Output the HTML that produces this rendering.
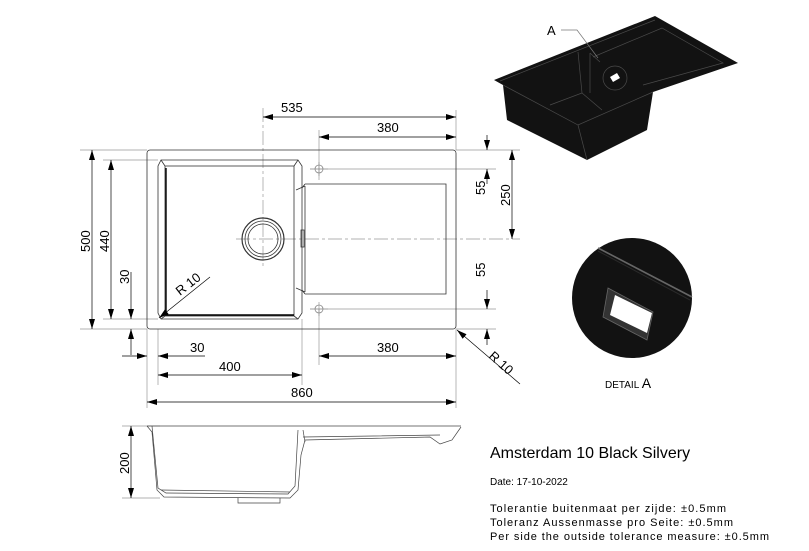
<!DOCTYPE html>
<html><head><meta charset="utf-8"><style>
html,body{margin:0;padding:0;background:#fff;}
svg{display:block;font-family:"Liberation Sans",sans-serif;}
</style></head><body>
<svg width="809" height="551" viewBox="0 0 809 551" xmlns="http://www.w3.org/2000/svg">
<defs>
<marker id="a" viewBox="0 0 10 6" refX="10" refY="3" markerWidth="11" markerHeight="6" orient="auto-start-reverse" markerUnits="userSpaceOnUse"><path d="M0,0 L10,3 L0,6 z" fill="#000"/></marker>
</defs>
<g stroke="#999" stroke-width="0.7" fill="none">
<line x1="263" y1="108" x2="263" y2="268" stroke-dasharray="14,3,3,3"/>
<line x1="319" y1="130" x2="319" y2="180"/>
<line x1="456" y1="110" x2="456" y2="150"/>
<line x1="456" y1="150" x2="520" y2="150"/>
<line x1="310" y1="169" x2="496" y2="169"/>
<line x1="236" y1="239" x2="520" y2="239" stroke-dasharray="14,3,3,3"/>
<line x1="310" y1="309" x2="496" y2="309"/>
<line x1="456" y1="329" x2="496" y2="329"/>
<line x1="80" y1="150" x2="147" y2="150"/>
<line x1="80" y1="329" x2="147" y2="329"/>
<line x1="103" y1="160" x2="158" y2="160"/>
<line x1="103" y1="319" x2="158" y2="319"/>
<line x1="158" y1="329" x2="158" y2="385"/>
<line x1="147" y1="329" x2="147" y2="408"/>
<line x1="302" y1="319" x2="302" y2="385"/>
<line x1="319" y1="309" x2="319" y2="365"/>
<line x1="456" y1="329" x2="456" y2="408"/>
<line x1="122" y1="426" x2="160" y2="426"/>
<line x1="122" y1="498" x2="160" y2="498"/>
</g>
<g stroke="#333" stroke-width="0.8" fill="none">
<rect x="147" y="150" width="309" height="179" rx="3"/>
<path d="M161,160 L298,160 L302,166 L302,313 L298,319 L161,319 L158,313 L158,166 Z"/>
<rect x="165" y="166" width="129" height="150"/>
<line x1="161" y1="160" x2="165" y2="166"/><line x1="298" y1="160" x2="294" y2="166"/>
<line x1="161" y1="319" x2="165" y2="316"/><line x1="298" y1="319" x2="294" y2="316"/>
<line x1="166" y1="168" x2="166" y2="314" stroke="#000" stroke-width="1.4"/>
<line x1="165" y1="315" x2="294" y2="315" stroke="#000" stroke-width="1.4"/>
<path d="M305,184 L446,184 L446,294 L305,294"/>
<line x1="302" y1="188" x2="305" y2="184"/><line x1="296" y1="190" x2="305" y2="186"/>
<line x1="302" y1="290" x2="305" y2="294"/><line x1="296" y1="288" x2="305" y2="292"/>
<line x1="305" y1="186" x2="305" y2="292"/>
<rect x="301" y="230" width="3" height="17"/>
<circle cx="263" cy="239" r="21" stroke-width="1.2"/>
<circle cx="263" cy="239" r="18"/>
<circle cx="263" cy="239" r="15"/>
<circle cx="319" cy="169" r="4" stroke="#888"/>
<circle cx="319" cy="309" r="4" stroke="#888"/>
</g>
<g stroke="#888" stroke-width="0.6"><line x1="310" y1="169" x2="328" y2="169"/><line x1="319" y1="162" x2="319" y2="176"/>
<line x1="310" y1="309" x2="328" y2="309"/><line x1="319" y1="302" x2="319" y2="316"/></g>
<g stroke="#000" stroke-width="0.7" fill="none">
<line x1="263" y1="117" x2="456" y2="117" marker-start="url(#a)" marker-end="url(#a)"/>
<line x1="319" y1="137" x2="456" y2="137" marker-start="url(#a)" marker-end="url(#a)"/>
<line x1="487" y1="135" x2="487" y2="150" marker-end="url(#a)"/>
<line x1="487" y1="184" x2="487" y2="169" marker-end="url(#a)"/>
<line x1="512" y1="150" x2="512" y2="239" marker-start="url(#a)" marker-end="url(#a)"/>
<line x1="487" y1="290" x2="487" y2="309" marker-end="url(#a)"/>
<line x1="487" y1="345" x2="487" y2="329" marker-end="url(#a)"/>
<line x1="92" y1="150" x2="92" y2="329" marker-start="url(#a)" marker-end="url(#a)"/>
<line x1="111" y1="160" x2="111" y2="319" marker-start="url(#a)" marker-end="url(#a)"/>
<line x1="131" y1="272" x2="131" y2="319" marker-end="url(#a)"/>
<line x1="131" y1="355" x2="131" y2="329" marker-end="url(#a)"/>
<line x1="122" y1="356" x2="147" y2="356" marker-end="url(#a)"/>
<line x1="205" y1="356" x2="158" y2="356" marker-end="url(#a)"/>
<line x1="158" y1="375" x2="302" y2="375" marker-start="url(#a)" marker-end="url(#a)"/>
<line x1="319" y1="356" x2="456" y2="356" marker-start="url(#a)" marker-end="url(#a)"/>
<line x1="147" y1="402" x2="456" y2="402" marker-start="url(#a)" marker-end="url(#a)"/>
<line x1="210" y1="277" x2="159" y2="318" marker-end="url(#a)"/>
<line x1="520" y1="384" x2="457" y2="330" marker-end="url(#a)"/>
<line x1="131" y1="426" x2="131" y2="498" marker-start="url(#a)" marker-end="url(#a)"/>
</g>
<g font-size="13" fill="#000">
<text x="281" y="112">535</text>
<text x="377" y="132">380</text>
<text x="190" y="352">30</text>
<text x="219" y="371">400</text>
<text x="377" y="352">380</text>
<text x="291" y="397">860</text>
<text transform="translate(485,195) rotate(-90)">55</text>
<text transform="translate(485,277) rotate(-90)">55</text>
<text transform="translate(510,206) rotate(-90)">250</text>
<text transform="translate(90,252) rotate(-90)">500</text>
<text transform="translate(109,252) rotate(-90)">440</text>
<text transform="translate(129,284) rotate(-90)">30</text>
<text transform="translate(129,474) rotate(-90)">200</text>
<text transform="translate(180,296) rotate(-38)">R 10</text>
<text transform="translate(488,357) rotate(42)">R 10</text>
</g>
<g stroke="#444" stroke-width="0.7" fill="none">
<line x1="147" y1="426" x2="461" y2="426"/>
<path d="M147,426 L152,432 L157,490 L164,497 L290,498 L298,490 L301,455 L305,440 L430,437 L440,444 L452,440 L461,427"/>
<path d="M152,426 L158,488 L166,493 L288,494 L295,486 L298,430"/>
<path d="M161,490 L290,492"/>
<path d="M303,430 L305,442 M303,437 L440,435"/>
<path d="M238,498 L238,503 L280,503 L280,498"/>
</g>
<!-- iso view -->
<polygon points="494,80 655,16 738,63 653,92 647,130 587,160 507,120 503,85" fill="#121212"/>
<g stroke="#4a4a4a" stroke-width="0.7" fill="none">
<path d="M503,85 L578,125 L653,92"/>
<path d="M578,125 L587,160"/>
<path d="M500,81 L655,20"/>
<path d="M578,52 L582,93 L550,105"/>
<path d="M590,53 L590,93"/>
<path d="M582,93 L602,110"/>
<path d="M593,57 L662,28 L723,63 L643,85"/>
<path d="M590,53 L600,62"/>
<circle cx="615" cy="78" r="12"/>
</g>
<polygon points="610,77 617,73 620,78 613,82" fill="#fff"/>
<text x="547" y="35" font-size="13">A</text>
<polyline points="561,30 577,30 598,58" stroke="#777" stroke-width="0.7" fill="none"/>
<!-- detail A -->
<circle cx="632" cy="298" r="60" fill="#121212"/>
<path d="M598,248 L692,297" stroke="#666" stroke-width="1.6"/>
<path d="M598,251 L690,300" stroke="#2a2a2a" stroke-width="1"/>
<polygon points="608,288 653,312 647,340 603,317" fill="#333" stroke="#666" stroke-width="0.8"/>
<polygon points="615,295 652,313 647,333 610,315" fill="#fff"/>
<text x="605" y="388" font-size="10">DETAIL <tspan font-size="14">A</tspan></text>
<text x="490" y="458" font-size="16">Amsterdam 10 Black Silvery</text>
<text x="490" y="485" font-size="10">Date: 17-10-2022</text>
<text x="490" y="512" font-size="11" textLength="236" lengthAdjust="spacing">Tolerantie buitenmaat per zijde: ±0.5mm</text>
<text x="490" y="526" font-size="11" textLength="243" lengthAdjust="spacing">Toleranz Aussenmasse pro Seite: ±0.5mm</text>
<text x="490" y="540" font-size="11" textLength="279" lengthAdjust="spacing">Per side the outside tolerance measure: ±0.5mm</text>
</svg>
</body></html>
